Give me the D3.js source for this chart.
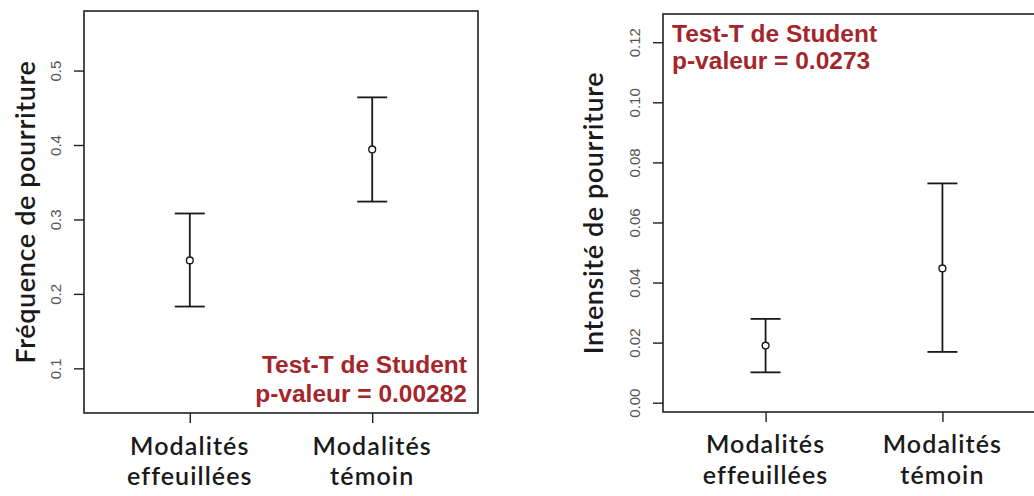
<!DOCTYPE html>
<html><head><meta charset="utf-8">
<script src="https://cdn.jsdelivr.net/npm/d3@7"></script>
<style>
html,body{margin:0;padding:0;background:#fff;}
svg{display:block;}
</style></head>
<body>
<svg id="chart" width="1034" height="496"></svg>
<script>
// ---- data ----
const categories = [["Modalités", "effeuillées"], ["Modalités", "témoin"]];
const freqMean = [0.245, 0.394];
const freqLow  = [0.183, 0.324];
const freqHigh = [0.308, 0.464];
const freqTicks = [0.1, 0.2, 0.3, 0.4, 0.5];
const freqTitle = "Fréquence de pourriture";
const freqTest = ["Test-T de Student", "p-valeur = 0.00282"];

const intMean = [0.019, 0.0447];
const intLow  = [0.0101, 0.0169];
const intHigh = [0.0279, 0.0730];
const intTicks = [0.00, 0.02, 0.04, 0.06, 0.08, 0.10, 0.12];
const intTitle = "Intensité de pourriture";
const intTest = ["Test-T de Student", "p-valeur = 0.0273"];

const svg = d3.select("#chart");

function panel(opts) {
  const g = svg.append("g");
  const x = d3.scaleLinear().domain([0.42, 2.58]).range([opts.left, opts.right]);
  const y = d3.scaleLinear().domain(opts.ydom).range([opts.bottom, opts.top]);

  // box
  g.append("rect")
    .attr("x", opts.left).attr("y", opts.top)
    .attr("width", opts.right - opts.left).attr("height", opts.bottom - opts.top)
    .attr("fill", "none").attr("stroke", "#222").attr("stroke-width", 1.6);

  // y axis
  const ya = g.append("g").attr("transform", `translate(${opts.left},0)`)
    .call(d3.axisLeft(y).tickValues(opts.ticks).tickSize(10).tickFormat(opts.fmt));
  ya.select(".domain").remove();
  ya.selectAll(".tick line").attr("stroke", "#222").attr("stroke-width", 1.4);
  ya.selectAll(".tick text")
    .attr("transform", "rotate(-90)")
    .attr("x", 0).attr("y", -29).attr("dy", null)
    .attr("text-anchor", "middle").attr("dominant-baseline", "central")
    .attr("font-family", "'Liberation Sans', Arial, sans-serif")
    .attr("font-size", 15).attr("fill", "#555");

  // x axis ticks
  const xa = g.append("g").attr("transform", `translate(0,${opts.bottom})`)
    .call(d3.axisBottom(x).tickValues([1, 2]).tickSize(10).tickFormat(""));
  xa.select(".domain").remove();
  xa.selectAll(".tick line").attr("stroke", "#222").attr("stroke-width", 1.4);

  // x labels (one text per line)
  categories.forEach((lines, i) => {
    lines.forEach((ln, j) => {
      g.append("text")
        .attr("x", x(i + 1)).attr("y", opts.labelY[j])
        .attr("text-anchor", "middle")
        .attr("font-family", "Lato, sans-serif")
        .attr("font-weight", 600)
        .attr("letter-spacing", 1.1)
        .attr("font-size", 25).attr("fill", "#1a1a1a")
        .text(ln);
    });
  });

  // y title
  g.append("text")
    .attr("transform", `translate(${opts.titleX},${(opts.top + opts.bottom) / 2}) rotate(-90)`)
    .attr("text-anchor", "middle").attr("dominant-baseline", "central")
    .attr("font-family", "Lato, sans-serif").attr("font-weight", 600)
    .attr("letter-spacing", 0.6)
    .attr("font-size", 27).attr("fill", "#1a1a1a")
    .text(opts.title);

  // error bars
  const idx = [0, 1];
  const capW = 15;
  const eb = g.append("g").attr("stroke", "#1a1a1a").attr("stroke-width", 1.8).attr("fill", "none");
  eb.selectAll("line.v").data(idx).join("line")
    .attr("x1", i => x(i + 1)).attr("x2", i => x(i + 1))
    .attr("y1", i => y(opts.low[i])).attr("y2", i => y(opts.high[i]));
  eb.selectAll("line.lo").data(idx).join("line").attr("class", "lo")
    .attr("x1", i => x(i + 1) - capW).attr("x2", i => x(i + 1) + capW)
    .attr("y1", i => y(opts.low[i])).attr("y2", i => y(opts.low[i]));
  eb.selectAll("line.hi").data(idx).join("line").attr("class", "hi")
    .attr("x1", i => x(i + 1) - capW).attr("x2", i => x(i + 1) + capW)
    .attr("y1", i => y(opts.high[i])).attr("y2", i => y(opts.high[i]));
  g.selectAll("circle.pt").data(idx).join("circle").attr("class", "pt")
    .attr("cx", i => x(i + 1)).attr("cy", i => y(opts.mean[i])).attr("r", 3.4)
    .attr("fill", "#fff").attr("stroke", "#1a1a1a").attr("stroke-width", 1.4);

  // annotation
  opts.ann.forEach((ln, j) => {
    g.append("text")
      .attr("x", opts.annX).attr("y", opts.annY[j])
      .attr("text-anchor", opts.annAnchor)
      .attr("font-family", "'Liberation Sans', Arial, sans-serif").attr("font-weight", "bold")
      .attr("font-size", 24.5).attr("fill", "#a3262b")
      .text(ln);
  });
}

panel({
  left: 84, right: 478, top: 11, bottom: 413,
  ydom: [0.04, 0.58], ticks: freqTicks, fmt: d3.format(".1f"),
  mean: freqMean, low: freqLow, high: freqHigh,
  title: freqTitle, titleX: 24,
  labelY: [455, 485],
  ann: freqTest, annAnchor: "end", annX: 467, annY: [373, 402]
});

panel({
  left: 663, right: 1045, top: 14, bottom: 412,
  ydom: [-0.0031, 0.1294], ticks: intTicks, fmt: d3.format(".2f"),
  mean: intMean, low: intLow, high: intHigh,
  title: intTitle, titleX: 592,
  labelY: [453, 484],
  ann: intTest, annAnchor: "start", annX: 672, annY: [42, 69]
});
</script>
</body></html>
